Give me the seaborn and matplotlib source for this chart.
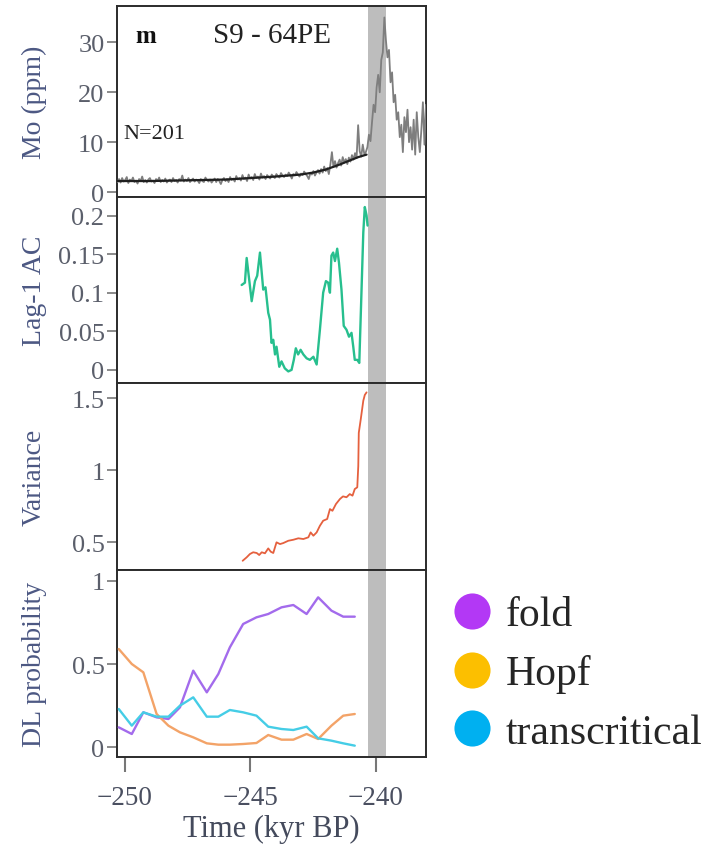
import numpy as np
import pandas as pd
import matplotlib
matplotlib.use("Agg")
import matplotlib.pyplot as plt
from matplotlib.lines import Line2D
import seaborn as sns

# ---------------- data ----------------
# Mo record of core S9 - 64PE, evenly spaced samples
mo_n = 201
mo_age_span = (-250.3, -238.0)
mo_ppm = [
    2.0, 2.6, 1.9, 2.8, 2.1, 2.4, 3.0, 1.8, 2.5, 2.2,
    2.9, 2.0, 2.3, 1.7, 2.6, 2.2, 3.1, 2.0, 2.4, 1.9,
    2.5, 2.8, 2.1, 2.3, 1.8, 2.6, 2.2, 2.9, 2.0, 2.4,
    2.1, 2.7, 1.9, 2.3, 2.5, 2.0, 2.8, 2.2, 2.4, 1.9,
    2.6, 2.3, 3.3, 2.1, 2.5, 2.2, 2.8, 2.0, 2.4, 2.7,
    2.1, 2.5, 2.3, 1.8, 2.6, 2.2, 2.0, 2.9, 2.4, 2.1,
    2.5, 1.9, 2.3, 2.7, 2.0, 2.6, 2.2, 1.6, 2.4, 2.8,
    2.2, 2.6, 2.0, 3.0, 2.4, 2.7, 2.1, 3.2, 2.5, 2.8,
    2.3, 3.4, 2.6, 2.9, 2.2, 3.5, 2.7, 3.0, 2.4, 3.6,
    2.8, 3.1, 2.5, 3.7, 2.9, 3.2, 2.6, 3.4, 3.0, 2.7,
    3.5, 3.1, 2.8, 3.6, 3.2, 2.9, 3.8, 3.3, 3.0, 3.5,
    3.2, 3.9, 3.4, 2.7, 3.6, 3.3, 4.0, 3.5, 3.1, 3.7,
    3.4, 4.1, 3.6, 3.2, 2.6, 3.8, 3.5, 4.2, 3.3, 3.9,
    4.4, 3.7, 4.6, 3.9, 5.1, 4.2, 4.8, 3.6, 5.5, 8.0,
    5.0, 6.2, 4.9, 5.8, 6.5, 5.3, 7.0, 5.9, 6.6, 5.6,
    6.9, 6.1, 7.4, 6.5, 7.8, 6.8, 13.4, 8.2, 7.1, 9.5, 7.6, 8.0,
    9.0, 11.5, 10.2, 14.0, 17.5, 16.0, 21.0, 23.5, 20.0, 26.5,
    28.0, 35.0, 30.5, 27.0, 28.5, 22.0, 24.0, 18.0, 19.5, 14.5,
    16.0, 11.0, 13.5, 8.0, 15.0, 12.0, 16.5, 10.0, 13.0, 8.5,
    14.5, 7.5, 16.0, 11.0, 8.0, 12.5, 18.0, 9.5, 17.5,
]

# smoothed Mo trend before the transition
trend_age = [-250.3, -249.0, -248.0, -247.0, -246.0, -245.0, -244.0,
             -243.0, -242.5, -242.0, -241.5, -241.0, -240.7, -240.37]
trend_ppm = [2.2, 2.2, 2.3, 2.4, 2.5, 2.8, 3.1, 3.5, 3.9, 4.5, 5.4, 6.4, 7.0, 7.5]

# lag-1 autocorrelation
ac_age = [-245.35, -245.22, -245.15, -245.05, -244.95, -244.82, -244.73, -244.62,
          -244.49, -244.40, -244.29, -244.22, -244.16, -244.09, -244.02, -243.96,
          -243.85, -243.76, -243.63, -243.49, -243.36, -243.27, -243.19, -243.10,
          -243.00, -242.89, -242.76, -242.63, -242.49, -242.36, -242.23, -242.10,
          -241.99, -241.90, -241.83, -241.77, -241.70, -241.63, -241.54, -241.47,
          -241.37, -241.28, -241.17, -241.07, -240.97, -240.90, -240.84, -240.74,
          -240.66, -240.57, -240.50, -240.44, -240.37, -240.33]
ac_value = [0.110, 0.113, 0.145, 0.117, 0.089, 0.115, 0.122, 0.152,
            0.104, 0.107, 0.074, 0.065, 0.035, 0.039, 0.020, 0.030,
            0.004, 0.011, 0.002, -0.002, 0.000, 0.013, 0.028, 0.020,
            0.026, 0.020, 0.015, 0.013, 0.017, 0.007, 0.052, 0.100,
            0.115, 0.113, 0.100, 0.148, 0.152, 0.141, 0.157, 0.139,
            0.104, 0.057, 0.052, 0.043, 0.048, 0.030, 0.013, 0.013,
            0.009, 0.104, 0.178, 0.211, 0.200, 0.187]

# variance
var_age = [-245.31, -245.15, -245.02, -244.89, -244.75, -244.65, -244.55, -244.42,
           -244.29, -244.19, -244.09, -243.96, -243.82, -243.69, -243.49, -243.29,
           -243.09, -242.89, -242.69, -242.60, -242.49, -242.36, -242.23, -242.10,
           -241.94, -241.83, -241.73, -241.59, -241.43, -241.31, -241.17, -241.04,
           -240.93, -240.84, -240.74, -240.70, -240.68, -240.60, -240.50, -240.44,
           -240.37]
var_value = [0.372, 0.396, 0.419, 0.431, 0.426, 0.412, 0.431, 0.424,
             0.458, 0.435, 0.426, 0.500, 0.488, 0.495, 0.511, 0.518,
             0.528, 0.523, 0.535, 0.569, 0.546, 0.569, 0.615, 0.650,
             0.662, 0.731, 0.719, 0.766, 0.801, 0.819, 0.813, 0.835,
             0.824, 0.870, 0.882, 1.030, 1.260, 1.356, 1.483, 1.523,
             1.541]

# deep-learning classifier probabilities
dl_age = [-250.25, -249.73, -249.27, -248.74, -248.27, -247.81, -247.28, -246.74,
          -246.28, -245.82, -245.29, -244.76, -244.29, -243.76, -243.29, -242.76,
          -242.30, -241.77, -241.30, -240.84]
dl_fold = [0.120, 0.080, 0.210, 0.180, 0.170, 0.240, 0.460, 0.330,
           0.440, 0.600, 0.740, 0.780, 0.800, 0.840, 0.854, 0.800,
           0.900, 0.820, 0.784, 0.784]
dl_hopf = [0.590, 0.500, 0.450, 0.200, 0.130, 0.090, 0.060, 0.024,
           0.016, 0.016, 0.020, 0.026, 0.074, 0.046, 0.046, 0.080,
           0.050, 0.130, 0.190, 0.200]
dl_transcritical = [0.230, 0.130, 0.210, 0.184, 0.184, 0.250, 0.300, 0.184,
                    0.184, 0.224, 0.210, 0.190, 0.124, 0.110, 0.104, 0.124,
                    0.054, 0.040, 0.024, 0.010]

bifurcations = ["fold", "Hopf", "transcritical"]
legend_colors = ["#b338f5", "#fcbf00", "#00b0f0"]
line_colors = ["#a36bec", "#f3a368", "#45cde6"]

transition = (-240.3, -239.6)
x_ticks = [-250, -245, -240]

# ---------------- figure ----------------
sns.set_theme(style="white")
plt.rcParams["font.family"] = ["Liberation Serif", "DejaVu Serif"]
plt.rcParams["mathtext.fontset"] = "stix"

W, H = 713, 845
fig = plt.figure(figsize=(W / 100, H / 100), dpi=100)

def px_axes(top, bottom, left=117, right=426):
    return fig.add_axes([left / W, 1 - bottom / H, (right - left) / W, (bottom - top) / H])

ax_mo = px_axes(7, 198)
ax_ac = px_axes(198, 384)
ax_var = px_axes(384, 571)
ax_dl = px_axes(571, 758)
axes = [ax_mo, ax_ac, ax_var, ax_dl]

tick_color = "#5b5f6b"
label_color = "#4c5883"
spine_color = "#2b2b2b"

mo_df = pd.DataFrame({"age": np.linspace(*mo_age_span, mo_n), "Mo": mo_ppm})
trend_df = pd.DataFrame({"age": trend_age, "Mo": trend_ppm})
ac_df = pd.DataFrame({"age": ac_age, "AC": ac_value})
var_df = pd.DataFrame({"age": var_age, "Variance": var_value})
dl_df = pd.DataFrame({
    "age": dl_age * 3,
    "prob": dl_fold + dl_hopf + dl_transcritical,
    "bifurcation": np.repeat(bifurcations, len(dl_age)),
})

sns.lineplot(data=mo_df, x="age", y="Mo", ax=ax_mo, color="#7e7e7e", lw=1.3, zorder=3)
sns.lineplot(data=trend_df, x="age", y="Mo", ax=ax_mo, color="#1f1f1f", lw=1.6, zorder=4)
sns.lineplot(data=ac_df, x="age", y="AC", ax=ax_ac, color="#27bf8e", lw=1.7, zorder=3)
sns.lineplot(data=var_df, x="age", y="Variance", ax=ax_var, color="#e5603e", lw=1.3, zorder=3)
sns.lineplot(data=dl_df, x="age", y="prob", hue="bifurcation", hue_order=bifurcations,
             palette=line_colors, ax=ax_dl, lw=1.7, legend=False, zorder=3)

ylims = [(-1.0, 37.3), (-0.017, 0.224), (0.308, 1.606), (-0.058, 1.064)]
yticks = [[0, 10, 20, 30], [0, 0.05, 0.1, 0.15, 0.2], [0.5, 1, 1.5], [0, 0.5, 1]]
yticklabels = [["0", "10", "20", "30"], ["0", "0.05", "0.1", "0.15", "0.2"],
               ["0.5", "1", "1.5"], ["0", "0.5", "1"]]
ylabels = ["Mo (ppm)", "Lag-1 AC", "Variance", "DL probability"]

for ax, yl, yt, ytl, lab in zip(axes, ylims, yticks, yticklabels, ylabels):
    ax.axvspan(*transition, color="#bdbdbd", lw=0, zorder=1)
    ax.set_xlim(-250.32, -238.0)
    ax.set_ylim(*yl)
    ax.set_yticks(yt)
    ax.set_yticklabels(ytl)
    ax.set_ylabel(lab, fontsize=20, color=label_color, va="center")
    ax.yaxis.set_label_coords(-0.268, 0.5)
    ax.set_xlabel("")
    ax.tick_params(axis="y", left=True, length=7, width=1.2, color="#777777",
                   labelsize=19, labelcolor=tick_color, pad=2)
    for s in ax.spines.values():
        s.set_color(spine_color)
        s.set_linewidth(1.4)
    ax.set_facecolor("white")
    if ax is not ax_dl:
        ax.set_xticks([])

ax_dl.set_xticks(x_ticks)
ax_dl.set_xticklabels(["\u2212250", "\u2212245", "\u2212240"])
ax_dl.tick_params(axis="x", bottom=True, length=11, width=1.5, color="#777777",
                  labelsize=19.5, labelcolor="#4a4f60", pad=9)
ax_dl.set_xlabel("Time (kyr BP)", fontsize=22, color="#444a5c", labelpad=3)

# panel annotations
ax_mo.text(0.094, 0.845, "m", transform=ax_mo.transAxes, fontsize=18,
           fontweight="bold", ha="center", va="center", color="#111111")
ax_mo.text(0.502, 0.85, "S9 - 64PE", transform=ax_mo.transAxes, fontsize=21,
           ha="center", va="center", color="#222222")
ax_mo.text(0.02, 0.33, f"N={mo_n}", transform=ax_mo.transAxes, fontsize=16,
           ha="left", va="center", color="#222222")

# legend with round markers
handles = [Line2D([], [], ls="none", marker="o", markersize=26, color=c,
                  markeredgewidth=0) for c in legend_colors]
fig.legend(handles, bifurcations, loc="upper left",
           bbox_to_anchor=(452 / W, 1 - 597 / H), frameon=False, fontsize=30,
           handlelength=0.95, handletextpad=0.33, labelspacing=0.48,
           borderpad=0, borderaxespad=0)

fig.savefig("out.png", dpi=100)
